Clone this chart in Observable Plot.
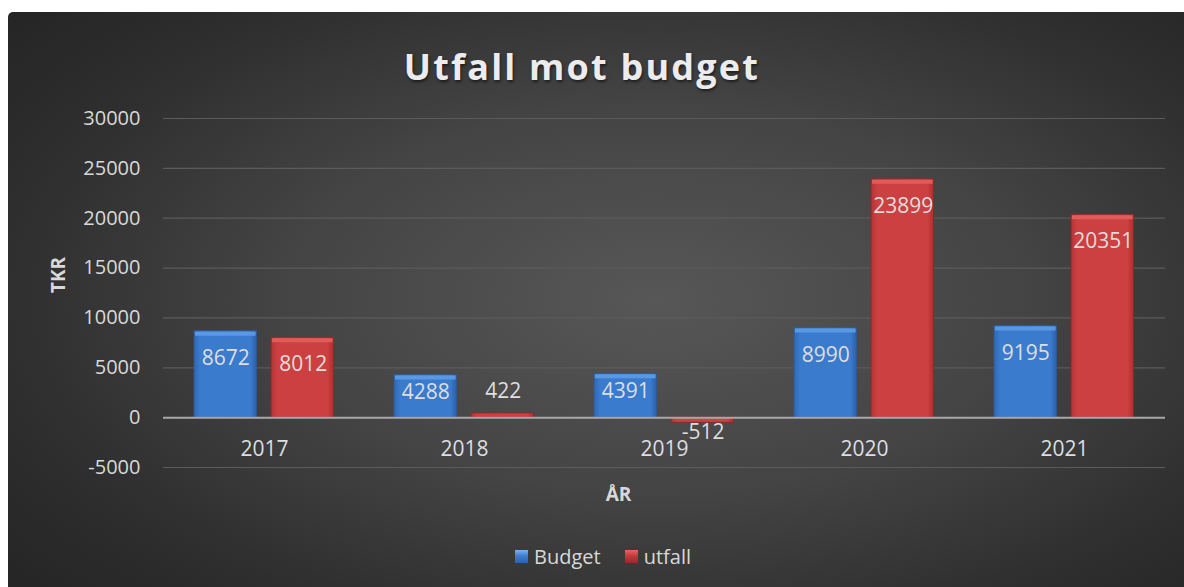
<!DOCTYPE html>
<html>
<head>
<meta charset="utf-8">
<script src="https://cdn.jsdelivr.net/npm/d3@7"></script>
<script src="https://cdn.jsdelivr.net/npm/@observablehq/plot@0.6"></script>
<style>
  html, body { margin: 0; padding: 0; background: #ffffff; }
  #panel {
    position: absolute; left: 8px; top: 12px; width: 1176px; height: 575px;
    border-top-left-radius: 5px; overflow: hidden;
    background: radial-gradient(ellipse 70% 75% at 55% 50%, #575757 0%, #444444 45%, #2e2e2e 80%, #262626 100%);
    font-family: "Open Sans", sans-serif; color: #d9d9d9;
  }
  #title {
    height: 90px; line-height: 110px; text-align: center; font-size: 36px; font-weight: bold;
    letter-spacing: 2.2px; padding-right: 28px; color: #ececec;
    text-shadow: 1px 2px 3px rgba(0,0,0,0.55);
  }
  #legend {
    height: 48px; display: flex; align-items: center; justify-content: center;
    padding-left: 14px; font-size: 20px; color: #d9d9d9; gap: 24px;
  }
  .item { display: flex; align-items: center; gap: 6px; }
  .sw { width: 13px; height: 13px; }
</style>
</head>
<body>
<div id="panel">
  <div id="title">Utfall mot budget</div>
  <div id="chart"></div>
  <div id="legend"></div>
</div>
<script>
const years = ["2017", "2018", "2019", "2020", "2021"];
const budget = [8672, 4288, 4391, 8990, 9195];
const utfall = [8012, 422, -512, 23899, 20351];
const yTicks = [-5000, 0, 5000, 10000, 15000, 20000, 25000, 30000];
const seriesNames = ["Budget", "utfall"];

const rows = years.map((year, i) => ({year, budget: budget[i], utfall: utfall[i]}));
const labels = [
  ...rows.map(d => ({year: d.year, v: d.budget, s: "Budget"})),
  ...rows.map(d => ({year: d.year, v: d.utfall, s: "utfall"}))
];
const bw = 200.4;
const dxOf = s => (s === "Budget" ? -38.7 : 38.7);
const textStyle = {fill: "#dedede", fontSize: 21};

function labelMark(filterFn, dy) {
  return seriesNames.map(s => Plot.text(labels.filter(d => d.s === s && filterFn(d.v)), {
    x: "year", y: "v", text: d => String(d.v), dx: dxOf(s), dy, ...textStyle
  }));
}

const chart = Plot.plot({
  width: 1176,
  height: 430,
  marginTop: 16,
  marginBottom: 65,
  marginLeft: 155,
  marginRight: 19,
  style: {fontFamily: "Open Sans", fontSize: "20px", color: "#d9d9d9", background: "transparent", overflow: "visible"},
  x: {domain: years, padding: 0, axis: null},
  y: {domain: [-5000, 30000], ticks: yTicks, tickSize: 0, tickPadding: 23, label: null, tickFormat: d => String(d)},
  marks: [
    Plot.ruleY(yTicks.filter(t => t !== 0), {stroke: "#5b5b5b", strokeWidth: 1.2}),
    Plot.barY(rows, {x: "year", y: "budget", fill: "url(#gBlue)", stroke: "#2a5a98", strokeWidth: 0.8, insetLeft: 30, insetRight: bw - 93}),
    Plot.barY(rows, {x: "year", y: "utfall", fill: "url(#gRed)", stroke: "#8e2526", strokeWidth: 0.8, insetLeft: 107, insetRight: bw - 170}),
    Plot.tickY(rows.filter(d => d.budget > 2000), {x: "year", y: "budget", dy: 2.5, strokeWidth: 4, stroke: "#5a98e2", insetLeft: 31, insetRight: bw - 92}),
    Plot.tickY(rows.filter(d => d.utfall > 2000), {x: "year", y: "utfall", dy: 2.5, strokeWidth: 4, stroke: "#e25b5b", insetLeft: 108, insetRight: bw - 169}),
    Plot.ruleY([0], {stroke: "#a8a8a8", strokeWidth: 2}),
    ...labelMark(v => v >= 6000, 27),
    ...labelMark(v => v >= 2000 && v < 6000, 17),
    ...labelMark(v => v > 0 && v < 2000, -22),
    ...labelMark(v => v < 0, 10),
    Plot.text(years, {x: d => d, y: years.map(() => 0), dy: 32, ...textStyle}),
    Plot.text(["ÅR"], {frameAnchor: "bottom", dy: 33, dx: -46, fontWeight: "bold", fill: "#d9d9d9", fontSize: 19}),
    Plot.text(["TKR"], {frameAnchor: "left", dx: -105, rotate: -90, fontWeight: "bold", fill: "#d9d9d9", fontSize: 19})
  ]
});

const defs = `
<linearGradient id="gBlue" x1="0" x2="1" y1="0" y2="0">
  <stop offset="0" stop-color="#2f68b6"/><stop offset="0.1" stop-color="#3b7bcd"/>
  <stop offset="0.9" stop-color="#3b7bcd"/><stop offset="1" stop-color="#2b5ea6"/>
</linearGradient>
<linearGradient id="gRed" x1="0" x2="1" y1="0" y2="0">
  <stop offset="0" stop-color="#b23435"/><stop offset="0.1" stop-color="#cd4041"/>
  <stop offset="0.9" stop-color="#cd4041"/><stop offset="1" stop-color="#a93031"/>
</linearGradient>`;
d3.select(chart).insert("defs", ":first-child").html(defs);
document.getElementById("chart").appendChild(chart);

const legendColors = {Budget: "linear-gradient(180deg,#79b3f0 0%,#3d7ecf 45%,#2c62ad 100%)", utfall: "linear-gradient(180deg,#ea6464 0%,#c23a3b 45%,#962a2b 100%)"};
const legend = document.getElementById("legend");
seriesNames.forEach(s => {
  const item = document.createElement("div");
  item.className = "item";
  item.innerHTML = `<span class="sw" style="background:${legendColors[s]}"></span><span>${s}</span>`;
  legend.appendChild(item);
});
</script>
</body>
</html>
